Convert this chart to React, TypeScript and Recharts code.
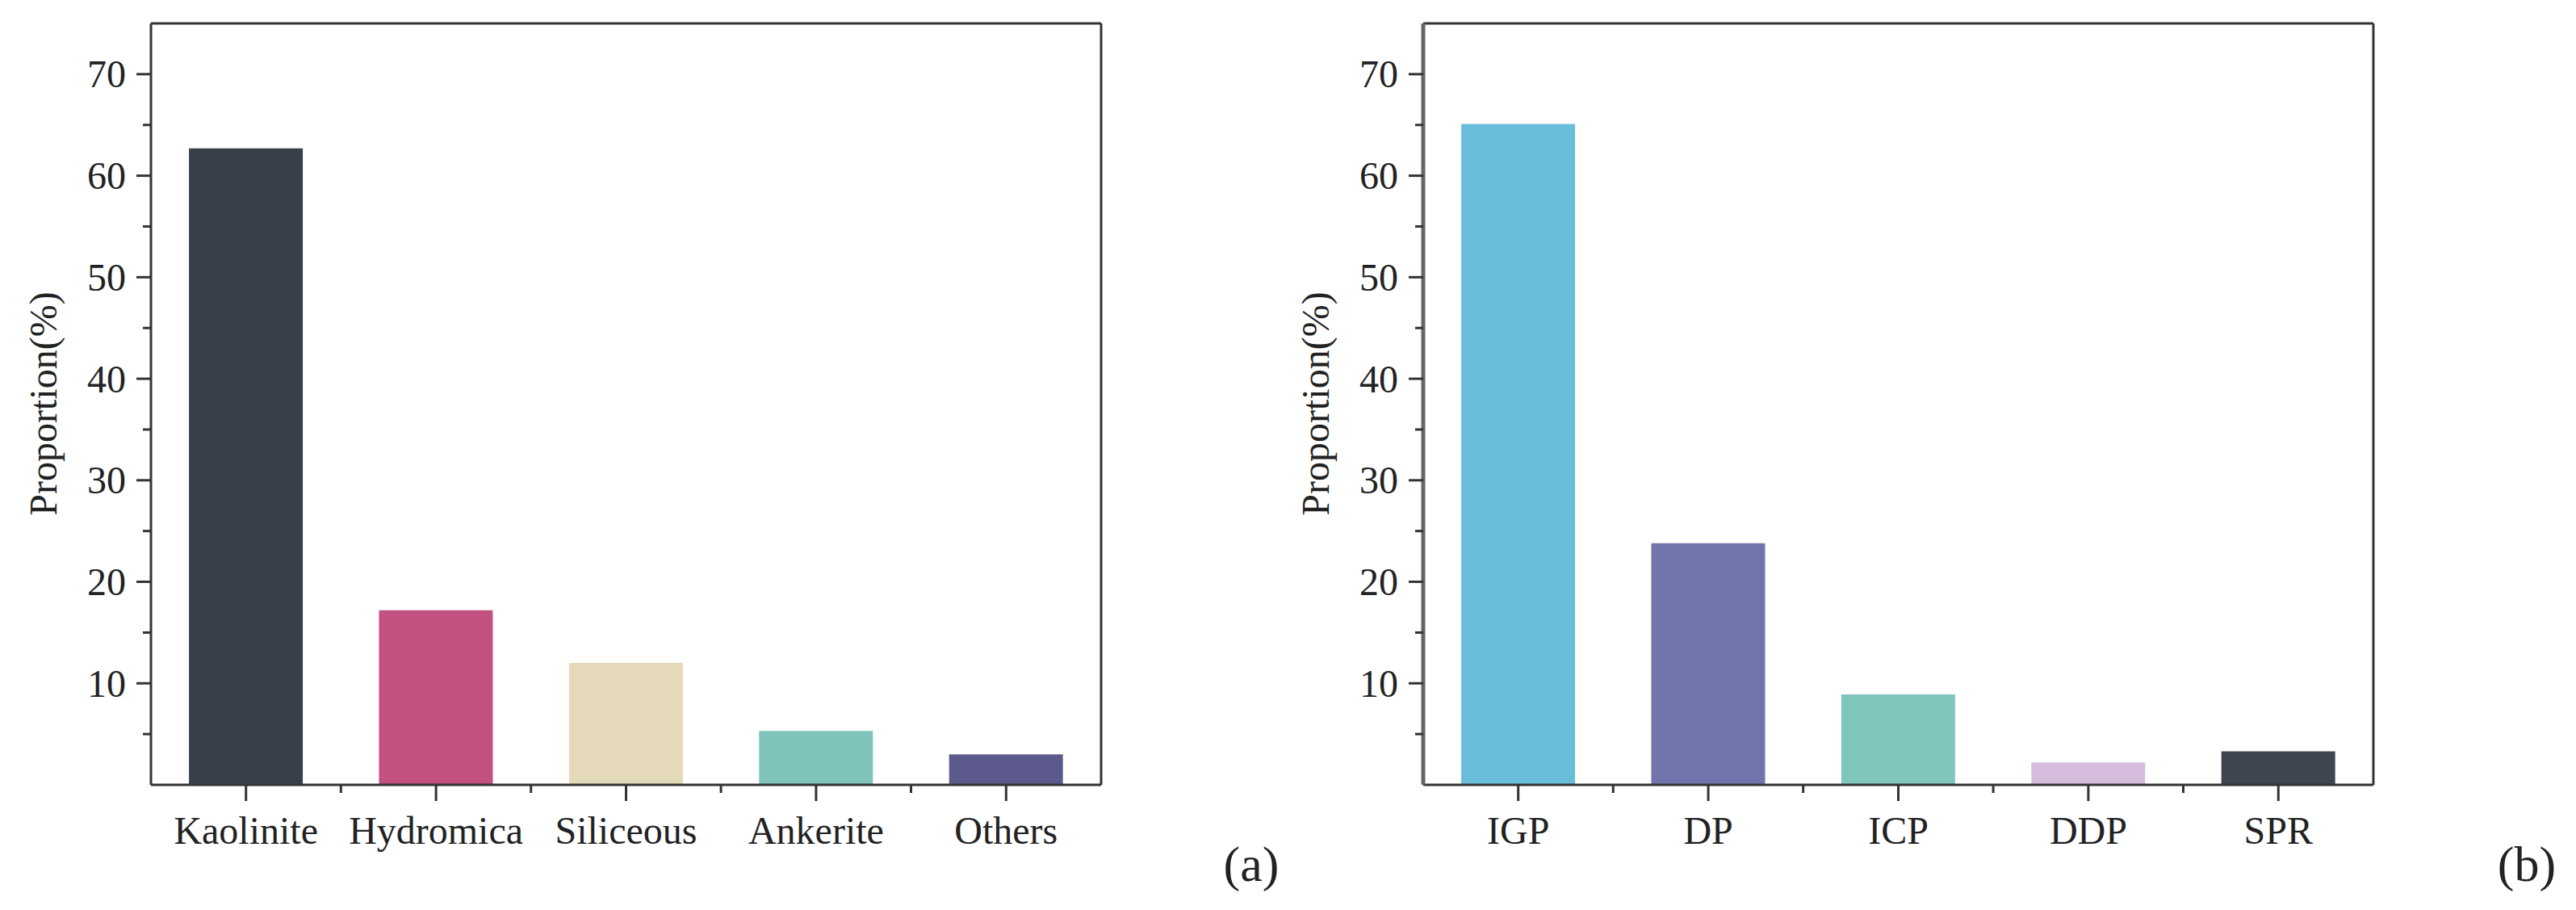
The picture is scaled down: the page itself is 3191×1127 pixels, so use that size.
import React from "react"
import { BarChart, Bar, Cell, XAxis, YAxis, Label } from "recharts"

// panel (a): mineral composition
const MINERALS = ["Kaolinite", "Hydromica", "Siliceous", "Ankerite", "Others"]
const MINERAL_SHARE = [62.7, 17.2, 12.0, 5.3, 3.0]
const MINERAL_COLORS = ["#37404a", "#c25080", "#e4d9b8", "#7fc3bb", "#5c5a8c"]

// panel (b): pore types
const PORES = ["IGP", "DP", "ICP", "DDP", "SPR"]
const PORE_SHARE = [65.1, 23.8, 8.9, 2.2, 3.3]
const PORE_COLORS = ["#6abdd9", "#7274ac", "#80c6bc", "#d6bcdd", "#3e4550"]

const Y_TICKS = [5, 10, 15, 20, 25, 30, 35, 40, 45, 50, 55, 60, 65, 70]
const Y_DOMAIN = [0, 75]

const FONT = "'Liberation Serif', 'Times New Roman', serif"
const INK = "#333"
const TEXT = "#222"

const CHART_W = 1400
const CHART_H = 1127
const AXIS_W = 187
const MARGIN = { top: 28, right: 35, left: 0, bottom: 0 }
const X_AXIS_H = 155
const PLOT_W = CHART_W - AXIS_W - MARGIN.right

function XTick(props: any) {
  const { x, y, payload, index, band } = props
  return (
    <g>
      <line x1={x} x2={x} y1={y} y2={y + 20} stroke={INK} strokeWidth={3} />
      {index > 0 && (
        <line x1={x - band / 2} x2={x - band / 2} y1={y} y2={y + 10} stroke={INK} strokeWidth={3} />
      )}
      <text x={x} y={y + 56} textAnchor="middle" dominantBaseline="central" fontFamily={FONT} fontSize={48} fill={TEXT}>
        {payload.value}
      </text>
    </g>
  )
}

function YTick(props: any) {
  const { x, y, payload } = props
  const major = payload.value % 10 === 0
  return (
    <g>
      <line x1={x} x2={x - (major ? 18 : 10)} y1={y} y2={y} stroke={INK} strokeWidth={3} />
      {major && (
        <text x={x - 31} y={y} textAnchor="end" dominantBaseline="central" fontFamily={FONT} fontSize={48} fill={TEXT}>
          {payload.value}
        </text>
      )}
    </g>
  )
}

const renderYLabel = () => (
  <text
    x={53}
    y={500}
    transform="rotate(-90 53 500)"
    textAnchor="middle"
    dominantBaseline="central"
    fontFamily={FONT}
    fontSize={48}
    fill={TEXT}
  >
    Proportion(%)
  </text>
)

function Panel({
  names,
  values,
  colors,
  yLine,
}: {
  names: string[]
  values: number[]
  colors: string[]
  yLine: { stroke: string; strokeWidth: number }
}) {
  const data = names.map((name, i) => ({ name, value: values[i] }))
  const band = PLOT_W / names.length

  return (
    <BarChart width={CHART_W} height={CHART_H} data={data} margin={MARGIN} barCategoryGap="20%">
      <XAxis
        dataKey="name"
        height={X_AXIS_H}
        interval={0}
        tickSize={0}
        tickMargin={0}
        tickLine={false}
        axisLine={{ stroke: INK, strokeWidth: 3 }}
        tick={(p: any) => <XTick {...p} band={band} />}
      />
      {/* top and right frame lines */}
      <XAxis
        xAxisId="top"
        dataKey="name"
        orientation="top"
        height={1}
        tick={false}
        tickLine={false}
        axisLine={{ stroke: INK, strokeWidth: 3 }}
      />
      <YAxis
        width={AXIS_W}
        domain={Y_DOMAIN}
        ticks={Y_TICKS}
        interval={0}
        tickSize={0}
        tickMargin={0}
        tickLine={false}
        axisLine={yLine}
        tick={(p: any) => <YTick {...p} />}
      >
        <Label content={renderYLabel} />
      </YAxis>
      <YAxis
        yAxisId="right"
        orientation="right"
        width={1}
        domain={Y_DOMAIN}
        tick={false}
        tickLine={false}
        axisLine={{ stroke: INK, strokeWidth: 3 }}
      />
      <Bar dataKey="value" isAnimationActive={false}>
        {data.map((d, i) => (
          <Cell key={d.name} fill={colors[i]} />
        ))}
      </Bar>
      {/* invisible series so the frame axes get a scale */}
      <Bar xAxisId="top" yAxisId="right" dataKey="value" fill="none" legendType="none" isAnimationActive={false} />
    </BarChart>
  )
}

const tagStyle: React.CSSProperties = {
  position: "absolute",
  top: 1070,
  transform: "translate(-50%, -50%)",
  fontFamily: FONT,
  fontSize: 62,
  color: TEXT,
  lineHeight: 1,
}

export default function App() {
  return (
    <div style={{ position: "absolute", left: 0, top: 0, width: 3191, height: 1127, background: "#fff" }}>
      <div style={{ position: "absolute", left: 0, top: 0 }}>
        <Panel names={MINERALS} values={MINERAL_SHARE} colors={MINERAL_COLORS} yLine={{ stroke: INK, strokeWidth: 3 }} />
      </div>
      <div style={{ position: "absolute", left: 1576, top: 0 }}>
        <Panel names={PORES} values={PORE_SHARE} colors={PORE_COLORS} yLine={{ stroke: "#666", strokeWidth: 5 }} />
      </div>
      <div style={{ ...tagStyle, left: 1550 }}>(a)</div>
      <div style={{ ...tagStyle, left: 3130 }}>(b)</div>
    </div>
  )
}
